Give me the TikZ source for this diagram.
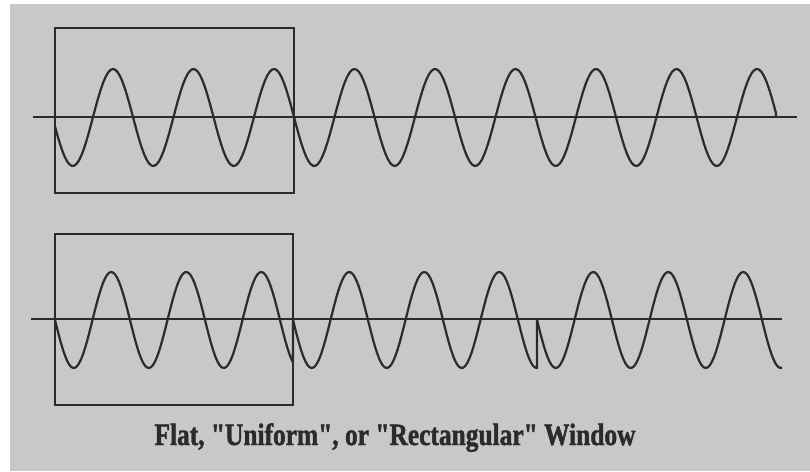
\documentclass[tikz,border=0pt]{standalone}
\usepackage{fontspec}
\usepackage{xcolor}
\usepackage{tikz}
\newfontfamily\captionfont[FakeStretch=0.82, BoldFeatures={FakeBold=1.4}]{Liberation Serif}
\definecolor{paper}{HTML}{C8C8C8}
\definecolor{ink}{HTML}{2B2B2B}
\tikzset{
  windowbox/.style={draw=ink, line width=2.2pt},
  axisline/.style={draw=ink, line width=2.6pt},
  wave/.style={draw=ink, line width=2.2pt, line join=round},
  captiontext/.style={font=\captionfont\bfseries\fontsize{31}{36}\selectfont, text=ink, inner sep=0pt, anchor=base}
}

\begin{document}
\begin{tikzpicture}[x=1pt, y=-1pt]
  \useasboundingbox (0,0) rectangle (810,471);
  \fill[white] (0,0) rectangle (810,471);
  \fill[paper] (10,4) rectangle (810,471);

  % whole periods inside the window (period 80.5)
  \draw[windowbox] (55,28) rectangle (294,193);
  \draw[axisline] (33,117) -- (797,117);
  \draw[wave] plot[domain=55:776, samples=300] (\x, {117.5-48.5*cos(4.472*(\x-113))}) -- (776,117);

  % window repeated, with a jump at each seam (period 75)
  \draw[windowbox] (55,234) rectangle (293,405);
  \draw[axisline] (31,319) -- (782,319);
  \foreach \s/\e in {55/293, 293/537}
    \draw[wave] plot[domain=\s:\e, samples=120] (\x, {320+48*sin(4.8*(\x-\s))}) -- (\e,319);
  \draw[wave] plot[domain=537:782, samples=120] (\x, {320+48*sin(4.8*(\x-537))});

  \node[captiontext] (caption) at (395,445) {Flat, "Uniform", or "Rectangular" Window};
\end{tikzpicture}
\end{document}
